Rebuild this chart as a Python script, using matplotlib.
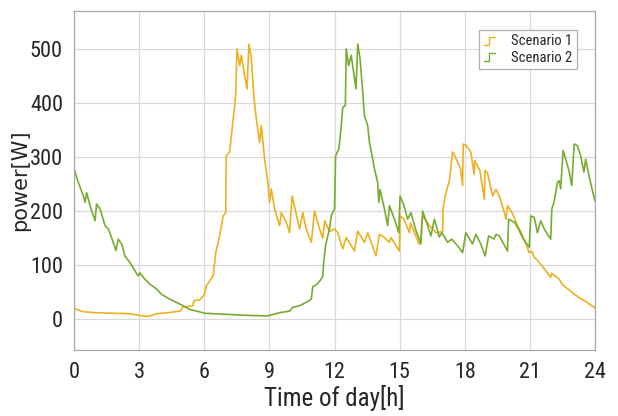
import matplotlib
matplotlib.use("Agg")
import matplotlib.pyplot as plt
from matplotlib import font_manager
from matplotlib.lines import Line2D
from matplotlib.legend_handler import HandlerBase

# ---------------- data ----------------
t_s1 = [0.0, 0.4, 1.0, 1.8, 2.6, 3.0, 3.4, 3.8, 4.3, 4.9, 5.0, 5.48, 5.52, 5.8, 6.0,
        6.1, 6.41, 6.53, 6.71, 6.87, 6.99, 7.01, 7.17, 7.25, 7.4, 7.45, 7.51, 7.63,
        7.71, 7.86, 7.97, 8.06, 8.17, 8.28, 8.4, 8.55, 8.63, 8.78, 8.93, 9.01, 9.09,
        9.24, 9.47, 9.55, 9.78, 9.93, 10.05, 10.24, 10.39, 10.54, 10.69, 10.93,
        11.08, 11.31, 11.46, 11.55, 11.77, 12.0, 12.15, 12.38, 12.54, 12.92, 13.07,
        13.38, 13.53, 13.91, 14.07, 14.3, 14.53, 14.6, 14.99, 15.02, 15.2, 15.45,
        15.5, 15.9, 15.95, 16.06, 16.37, 16.68, 16.98, 17.0, 17.1, 17.29, 17.44,
        17.5, 17.67, 17.8, 17.9, 17.93, 18.05, 18.28, 18.43, 18.46, 18.7, 18.9,
        18.93, 19.05, 19.28, 19.44, 19.59, 19.82, 19.9, 19.97, 20.2, 20.43, 20.6,
        20.81, 20.97, 21.1, 21.2, 21.43, 21.74, 21.96, 22.0, 22.35, 22.5, 22.96,
        23.26, 23.57, 23.88, 24.0]
p_s1 = [20, 14, 12, 11, 10, 7, 5, 10, 12, 15, 22, 25, 34, 36, 45,
        62, 80, 123, 154, 191, 197, 302, 309, 340, 395, 420, 500, 469,
        488, 451, 426, 509, 481, 414, 370, 327, 358, 296, 253, 216, 241,
        204, 173, 197, 179, 160, 228, 194, 167, 197, 167, 142,
        200, 167, 150, 182, 162, 167, 160, 130, 151, 126, 163,
        142, 160, 117, 157, 151, 142, 151, 126, 191, 185, 160,
        178, 139, 139, 191, 173, 160, 162, 204, 228, 256, 309,
        306, 290, 280, 247, 324, 322, 309, 268, 293, 275, 222,
        275, 270, 228, 240, 228, 198, 185, 210, 195, 173, 160,
        139, 123, 125, 115, 105, 89, 77, 85, 74, 64, 49,
        40, 33, 24, 21]

t_s2 = [0.0, 0.2, 0.43, 0.51, 0.58, 0.74, 0.97, 1.04, 1.2, 1.43, 1.58, 1.73, 1.93,
        2.04, 2.2, 2.34, 2.57, 2.8, 2.96, 3.03, 3.26, 3.49, 3.8, 4.03, 4.41, 4.72,
        5.03, 5.33, 5.64, 6.02, 7.0, 8.0, 8.9, 9.47, 9.93, 10.08, 10.39, 10.69,
        10.93, 11.0, 11.2, 11.39, 11.46, 11.5, 11.59, 11.69, 11.77, 11.85, 12.0,
        12.05, 12.2, 12.3, 12.38, 12.5, 12.54, 12.65, 12.77, 12.9, 12.99, 13.07,
        13.18, 13.3, 13.38, 13.53, 13.61, 13.76, 13.84, 13.99, 14.04, 14.1, 14.3,
        14.45, 14.53, 14.76, 14.96, 15.02, 15.2, 15.37, 15.52, 15.75, 15.98, 16.06,
        16.29, 16.44, 16.6, 16.83, 16.95, 17.21, 17.4, 17.67, 17.9, 18.05, 18.36,
        18.51, 18.74, 18.94, 19.1, 19.35, 19.44, 19.59, 19.97, 20.02, 20.3, 20.51,
        20.66, 20.81, 20.97, 21.04, 21.2, 21.35, 21.5, 21.66, 21.81, 21.96, 22.01,
        22.11, 22.27, 22.35, 22.42, 22.53, 22.65, 22.8, 22.93, 23.04, 23.19, 23.34,
        23.49, 23.57, 23.75, 23.88, 24.0]
p_s2 = [278, 253, 228, 216, 234, 210, 182, 213, 204, 173, 167, 151, 127,
        148, 139, 117, 105, 90, 80, 86, 74, 65, 56, 46, 37, 31,
        25, 18, 15, 11, 9, 7, 6, 12, 15, 22, 25, 31,
        37, 60, 65, 74, 80, 105, 136, 154, 167, 191, 204,
        302, 315, 352, 392, 395, 500, 469, 488, 451, 426, 509,
        481, 420, 376, 358, 327, 296, 278, 253, 216, 240, 204,
        173, 210, 185, 160, 228, 210, 185, 197, 164, 140, 200,
        173, 154, 185, 152, 160, 142, 148, 136, 123, 160, 139,
        157, 139, 117, 154, 148, 157, 154, 126, 185, 179, 164,
        151, 142, 133, 191, 188, 160, 182, 167, 157, 148, 204,
        216, 253, 256, 241, 312, 296, 275, 247, 324, 321, 302,
        272, 296, 260, 238, 219]

series_labels = ["Scenario 1", "Scenario 2"]
x_ticks = [0, 3, 6, 9, 12, 15, 18, 21, 24]
y_ticks = [0, 100, 200, 300, 400, 500]
x_label = "Time of day[h]"
y_label = "power[W]"

# ---------------- fonts ----------------
def pick(fams):
    for f in fams:
        try:
            font_manager.findfont(f, fallback_to_default=False)
            return f
        except Exception:
            pass
    return "DejaVu Sans"

narrow = pick(["Liberation Sans Narrow", "Roboto Condensed", "Liberation Sans"])
wide = pick(["DejaVu Sans"])

c1 = "#EDB120"
c2 = "#77AC30"
txt = "#262626"

fig = plt.figure(figsize=(6.18, 4.16), dpi=100)
ax = fig.add_axes([74 / 618, 1 - 350 / 416, (595 - 74) / 618, (350 - 11) / 416])

l1, = ax.plot(t_s1, p_s1, color=c1, lw=1.2)
l2, = ax.plot(t_s2, p_s2, color=c2, lw=1.2)

ax.set_xlim(0, 24)
ax.set_ylim(-57, 570)
ax.set_xticks(x_ticks)
ax.set_yticks(y_ticks)
ax.grid(True, color="#d9d9d9", lw=0.9)
ax.set_axisbelow(True)
for s in ax.spines.values():
    s.set_color("#a8a8a8")
    s.set_linewidth(0.9)
ax.tick_params(length=0, colors=txt, labelsize=16)
ax.tick_params(axis="x", pad=9)
ax.tick_params(axis="y", pad=8)
for lab in ax.get_xticklabels() + ax.get_yticklabels():
    lab.set_family(narrow)

ax.set_xlabel(x_label, family=narrow, fontsize=18, color=txt, labelpad=1)
ax.set_ylabel(y_label, family=wide, fontsize=15, color=txt, labelpad=0)


class StepHandler(HandlerBase):
    def create_artists(self, legend, orig_handle, xdescent, ydescent,
                       width, height, fontsize, trans):
        x0 = -xdescent + width * 0.05
        x1 = -xdescent + width * 0.95
        xm = -xdescent + width * 0.45
        yb = -ydescent + height * 0.05
        yt = -ydescent + height * 0.85
        ln = Line2D([x0, xm, xm, x1], [yb, yb, yt, yt],
                    color=orig_handle.get_color(), lw=1.0)
        ln.set_transform(trans)
        return [ln]


leg = ax.legend([l1, l2], series_labels, loc="upper right",
                bbox_to_anchor=(577 / 618, 1 - 30 / 416),
                bbox_transform=fig.transFigure,
                prop={"family": narrow, "size": 10.5},
                handler_map={Line2D: StepHandler()},
                handlelength=0.8, handletextpad=1.1, borderpad=0.3,
                labelspacing=0.15, borderaxespad=0, fancybox=False,
                framealpha=1, edgecolor="#b0b0b0")
leg.get_frame().set_linewidth(0.9)
for t in leg.get_texts():
    t.set_color(txt)

fig.savefig("out.png", dpi=100)
